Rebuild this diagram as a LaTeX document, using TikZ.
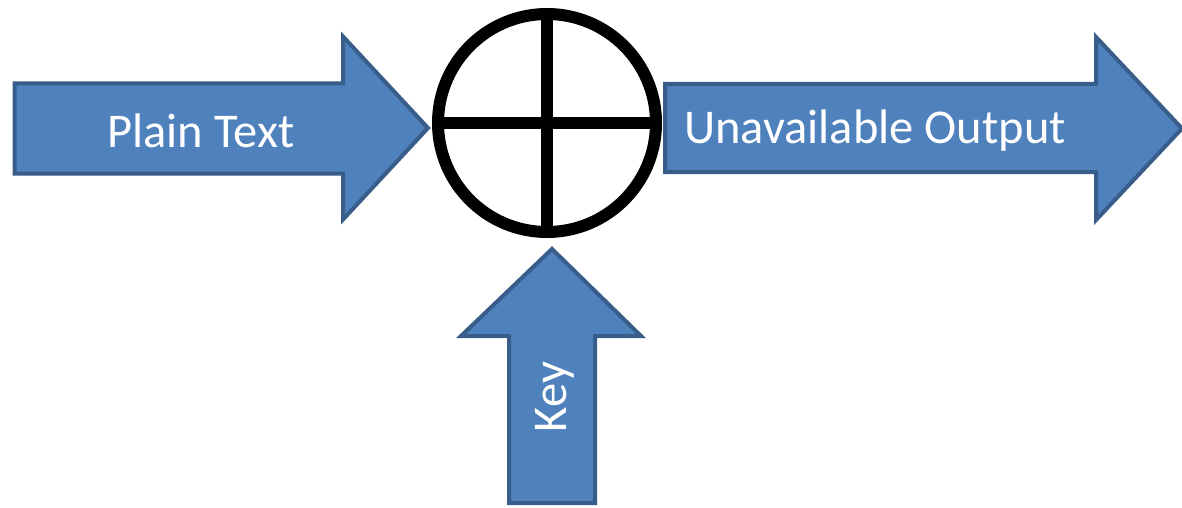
\documentclass[tikz,border=0pt]{standalone}
\usepackage{fontspec}
\setmainfont{Carlito}
\definecolor{arrfill}{HTML}{4F81BD}
\definecolor{arrline}{HTML}{385D8A}
\tikzset{
  blockarrow/.style={fill=arrfill, draw=arrline, line width=4pt, line join=miter},
  arrowtext/.style={text=white, font=\fontsize{48.5}{56}\selectfont, inner sep=0pt},
  xorline/.style={line width=11.5pt, draw=black}
}
\begin{document}
\begin{tikzpicture}[x=1pt,y=-1pt]
\useasboundingbox (0,0) rectangle (1182,508);
% left arrow (Plain Text)
\draw[blockarrow] (14.5,83.5) -- (343,83.5) -- (343,36.5) -- (428,128) -- (343,219.5) -- (343,173.5) -- (14.5,173.5) -- cycle;
\node[arrowtext] (plain) at (201,131) {Plain Text};
% right arrow (Unavailable Output)
\draw[blockarrow] (665,84) -- (1096,84) -- (1096,37) -- (1182,128.5) -- (1096,220) -- (1096,172) -- (665,172) -- cycle;
\node[arrowtext] (out) at (875,131) {Unavailable Output};
% key arrow
\draw[blockarrow] (509,503) -- (509,336) -- (461,336) -- (552,249) -- (641,336) -- (595,336) -- (595,503) -- cycle;
\node[arrowtext, rotate=90] (key) at (555,397) {Key};
% XOR circle
\node[circle, draw=black, line width=12pt, minimum size=218pt, inner sep=0pt] (xor) at (547,123) {};
\draw[xorline] (xor.north) -- (xor.south);
\draw[xorline] (xor.west) -- (xor.east);
\end{tikzpicture}
\end{document}
